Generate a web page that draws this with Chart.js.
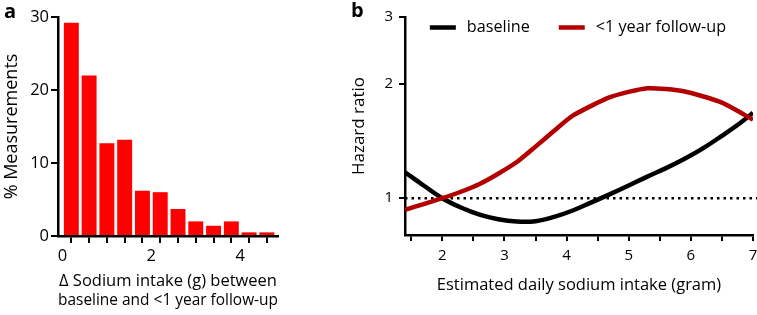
<!DOCTYPE html>
<html>
<head>
<meta charset="utf-8">
<script src="https://cdn.jsdelivr.net/npm/chart.js@4.4.1/dist/chart.umd.min.js"></script>
<style>
  html, body { margin: 0; padding: 0; background: #fff; overflow: hidden; }
  body { width: 757px; height: 315px; position: relative; font-family: 'Open Sans', sans-serif; }
  canvas { position: absolute; top: 0; }
  #histCanvas { left: 0; }
  #hrCanvas { left: 330px; }
  .tag { position: absolute; z-index: 2; font-weight: bold; font-size: 20px; line-height: 1; color: #000; }
</style>
</head>
<body>
<canvas id="histCanvas" width="300" height="315"></canvas>
<canvas id="hrCanvas" width="440" height="315"></canvas>
<div class="tag" style="left:4px;top:1px">a</div>
<div class="tag" style="left:351px;top:0px">b</div>
<script>
// panel a: histogram of sodium change
const binCenters = [0.2, 0.6, 1.0, 1.4, 1.8, 2.2, 2.6, 3.0, 3.4, 3.8, 4.2, 4.6]
const measurementPct = [29.2, 22.0, 12.7, 13.2, 6.2, 6.0, 3.7, 2.0, 1.4, 2.0, 0.5, 0.5]
const histTicks = [0, 0.4, 0.8, 1.2, 1.6, 2, 2.4, 2.8, 3.2, 3.6, 4, 4.4, 4.8]
const histLabels = [0, 2, 4]
const pctTicks = [0, 10, 20, 30]

// panel b: hazard ratio curves
const baselineGrams = [1.4, 1.7, 2.0, 2.3, 2.6, 2.9, 3.2, 3.5, 3.8, 4.1, 4.4, 4.7, 5.0, 5.3, 5.6, 5.9, 6.2, 6.5, 6.8, 7.0]
const hrBaseline = [1.17, 1.08, 1.0, 0.945, 0.905, 0.88, 0.868, 0.87, 0.893, 0.928, 0.975, 1.025, 1.08, 1.14, 1.2, 1.27, 1.355, 1.46, 1.58, 1.68]
const followUpGrams = [1.4, 1.7, 2.0, 2.3, 2.6, 2.9, 3.2, 3.5, 3.8, 4.1, 4.7, 5.3, 5.9, 6.5, 7.0]
const hrFollowUp = [0.932, 0.965, 1.0, 1.04, 1.09, 1.16, 1.245, 1.367, 1.505, 1.65, 1.845, 1.948, 1.91, 1.785, 1.61]
const refGrams = [1.4, 7.2]
const refHr = [1, 1]
const sodiumTicks = [1.5, 2, 2.5, 3, 3.5, 4, 4.5, 5, 5.5, 6, 6.5, 7]
const sodiumLabels = [2, 3, 4, 5, 6, 7]
const hrTicks = [1, 2, 3]

Chart.defaults.color = '#000'
Chart.defaults.font.family = "'Open Sans', sans-serif"

const toPoints = (xs, ys) => xs.map((x, i) => ({ x, y: ys[i] }))

function axisLook(tickLength) {
  return {
    grid: { display: true, drawOnChartArea: false, drawTicks: true, tickLength, color: '#000', lineWidth: 2 },
    border: { display: true, color: '#000', width: 2.5 }
  }
}

// legend drawn inside the plot area, centred near the top
const legendInside = {
  id: 'legendInside',
  afterDatasetsDraw(chart) {
    const { ctx, chartArea } = chart
    const items = chart.data.datasets.filter(d => d.inLegend)
    const sample = 26, gap = 11, spacing = 29
    ctx.save()
    ctx.font = "16.2px 'Open Sans', sans-serif"
    const widths = items.map(d => ctx.measureText(d.label).width)
    const total = widths.reduce((a, w) => a + sample + gap + w, 0) + spacing * (items.length - 1)
    let x = (chartArea.left + chartArea.right) / 2 - total / 2 - 1
    const y = chartArea.top + 10.5
    ctx.textBaseline = 'middle'
    items.forEach((d, i) => {
      ctx.strokeStyle = d.borderColor
      ctx.lineWidth = 4.5
      ctx.beginPath()
      ctx.moveTo(x, y)
      ctx.lineTo(x + sample, y)
      ctx.stroke()
      ctx.fillStyle = '#000'
      ctx.fillText(d.label, x + sample + gap, y)
      x += sample + gap + widths[i] + spacing
    })
    ctx.restore()
  }
}

new Chart(document.getElementById('histCanvas'), {
  type: 'bar',
  data: {
    datasets: [{
      data: toPoints(binCenters, measurementPct),
      backgroundColor: '#ff0000',
      borderWidth: 0,
      barPercentage: 0.84,
      categoryPercentage: 1
    }]
  },
  options: {
    responsive: false,
    animation: false,
    events: [],
    layout: { padding: { top: 17, right: 22, left: 0, bottom: 0 } },
    plugins: { legend: { display: false }, tooltip: { enabled: false } },
    scales: {
      x: {
        type: 'linear',
        min: -0.1,
        max: 4.85,
        offset: false,
        ...axisLook(7),
        afterFit: s => { s.height = 79 },
        afterBuildTicks: s => { s.ticks = histTicks.map(v => ({ value: v })) },
        ticks: {
          autoSkip: false,
          maxRotation: 0,
          padding: 3.5,
          font: { size: 16.5 },
          callback: v => histLabels.includes(v) ? String(v) : ''
        },
        title: {
          display: true,
          text: ['Δ Sodium intake (g) between', 'baseline and <1 year follow-up'],
          font: { size: 16.5, lineHeight: 1.17 },
          padding: { top: 0, bottom: 5 }
        }
      },
      y: {
        min: 0,
        max: 30,
        ...axisLook(7),
        afterFit: s => { s.width = 58 },
        afterBuildTicks: s => { s.ticks = pctTicks.map(v => ({ value: v })) },
        ticks: { padding: 2, font: { size: 16.5 } },
        title: {
          display: true,
          text: '% Measurements',
          font: { size: 18 },
          padding: { top: 1, bottom: 0 }
        }
      }
    }
  }
})

new Chart(document.getElementById('hrCanvas'), {
  type: 'line',
  data: {
    datasets: [
      {
        label: 'baseline',
        inLegend: true,
        data: toPoints(baselineGrams, hrBaseline),
        borderColor: '#000',
        borderWidth: 4.5,
        pointRadius: 0,
        tension: 0.4,
        order: 2
      },
      {
        label: '<1 year follow-up',
        inLegend: true,
        data: toPoints(followUpGrams, hrFollowUp),
        borderColor: '#b30000',
        borderWidth: 4.5,
        pointRadius: 0,
        tension: 0.2,
        order: 1
      },
      {
        label: 'reference',
        data: toPoints(refGrams, refHr),
        borderColor: '#000',
        borderWidth: 2.5,
        borderDash: [2.5, 4],
        pointRadius: 0,
        clip: false,
        order: 3
      }
    ]
  },
  options: {
    responsive: false,
    animation: false,
    events: [],
    layout: { padding: { top: 17, right: 17, left: 0, bottom: 0 } },
    plugins: { legend: { display: false }, tooltip: { enabled: false } },
    scales: {
      x: {
        type: 'linear',
        min: 1.4,
        max: 7,
        ...axisLook(6),
        afterFit: s => { s.height = 80 },
        afterBuildTicks: s => { s.ticks = sodiumTicks.map(v => ({ value: v })) },
        ticks: {
          autoSkip: false,
          maxRotation: 0,
          padding: 6,
          font: { size: 15 },
          callback: v => sodiumLabels.includes(v) ? String(v) : ''
        },
        title: {
          display: true,
          text: 'Estimated daily sodium intake (gram)',
          font: { size: 16.5 },
          padding: { top: 0, bottom: 20 }
        }
      },
      y: {
        type: 'logarithmic',
        min: 0.8,
        max: 3,
        ...axisLook(6),
        afterFit: s => { s.width = 75 },
        afterBuildTicks: s => { s.ticks = hrTicks.map(v => ({ value: v })) },
        ticks: { padding: 6, font: { size: 15 }, callback: v => String(v) },
        title: {
          display: true,
          text: 'Hazard ratio',
          font: { size: 17 },
          padding: { top: 19, bottom: 0 }
        }
      }
    }
  },
  plugins: [legendInside]
})
</script>
</body>
</html>
